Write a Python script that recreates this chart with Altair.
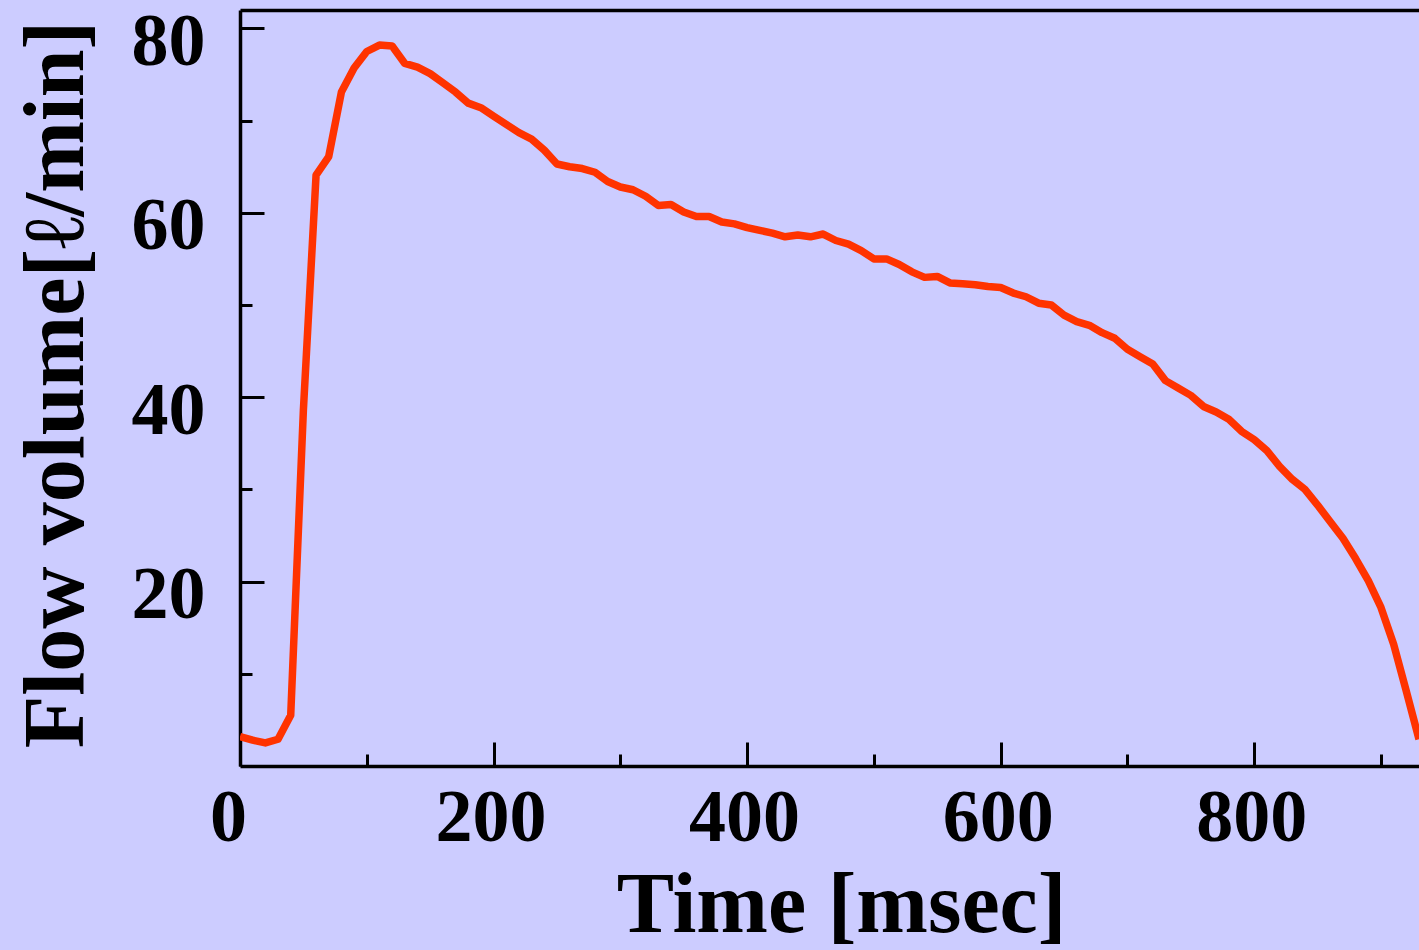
import altair as alt
import pandas as pd

time_ms = list(range(0, 940, 10))
flow = [3.2, 2.8, 2.5, 2.9, 5.5, 38.6, 64.1, 66.1, 73.1, 75.7,
        77.5, 78.2, 78.1, 76.2, 75.8, 75.1, 74.1, 73.1, 71.9, 71.4,
        70.5, 69.6, 68.7, 68.0, 66.8, 65.3, 65.0, 64.8, 64.4, 63.4,
        62.8, 62.5, 61.8, 60.8, 60.9, 60.1, 59.6, 59.6, 59.0, 58.8,
        58.4, 58.1, 57.8, 57.4, 57.6, 57.4, 57.7, 57.0, 56.6, 55.9,
        55.0, 55.0, 54.4, 53.6, 53.0, 53.1, 52.4, 52.3, 52.2, 52.0,
        51.9, 51.3, 50.9, 50.2, 50.0, 48.9, 48.2, 47.8, 47.0, 46.4,
        45.2, 44.4, 43.6, 41.8, 41.0, 40.2, 39.0, 38.4, 37.6, 36.3,
        35.4, 34.2, 32.5, 31.1, 30.0, 28.3, 26.5, 24.7, 22.5, 20.1,
        17.2, 13.2, 8.1, 2.9]

x_major = [0, 200, 400, 600, 800]
x_minor = [100, 300, 500, 700, 900]
y_major = [20, 40, 60, 80]
y_minor = [10, 30, 50, 70]

x_title = "Time [msec]"
y_title = "Flow volume[ℓ/min]"

df = pd.DataFrame({"t": time_ms, "flow": flow})

FONT = "Liberation Serif"
xscale = alt.Scale(domain=[0, 930], nice=False, zero=False)
yscale = alt.Scale(domain=[0, 82], nice=False)

base = alt.Chart(df)

main = base.mark_line(color="#FF3300", strokeWidth=7.5, strokeJoin="round", clip=True).encode(
    x=alt.X("t:Q", scale=xscale, axis=alt.Axis(
        orient="bottom", values=x_major, domain=True, domainColor="black", domainWidth=3.5,
        ticks=False, tickSize=0, grid=False, labelFlush=False,
        labelFont=FONT, labelFontSize=74, labelFontWeight="bold", labelColor="black",
        labelPadding=74, labelBaseline="alphabetic",
        labelOffset={"condition": {"test": "datum.value === 0", "value": -12}, "value": -3},
        title=x_title, titleFont=FONT, titleFontSize=86, titleFontWeight="bold", titleColor="black",
        titleX=601, titleY=165, titleBaseline="alphabetic", titleAlign="center")),
    y=alt.Y("flow:Q", scale=yscale, axis=alt.Axis(
        orient="left", values=y_major, domain=True, domainColor="black", domainWidth=3.5,
        ticks=False, tickSize=0, grid=False, labelFlush=False,
        labelFont=FONT, labelFontSize=74, labelFontWeight="bold", labelColor="black",
        labelPadding=35, labelBaseline="alphabetic", labelOffset=36,
        title=y_title, titleFont=FONT, titleFontSize=86, titleFontWeight="bold", titleColor="black",
        titleX=-158, titleY=374, titleAngle=270, titleBaseline="alphabetic", titleAlign="center")),
)

def tick_layer(xv, yv, size):
    return base.mark_line(opacity=0).encode(
        x=alt.X("t:Q", scale=xscale, axis=alt.Axis(
            orient="bottom", values=xv, domain=False, labels=False, grid=False,
            ticks=True, tickSize=size, tickWidth=3, tickColor="black", offset=-size, title=None)),
        y=alt.Y("flow:Q", scale=yscale, axis=alt.Axis(
            orient="left", values=yv, domain=False, labels=False, grid=False,
            ticks=True, tickSize=size, tickWidth=3, tickColor="black", offset=-size, title=None)),
    )

major = tick_layer(x_major, y_major, 24)
minor = tick_layer(x_minor, y_minor, 12)

top = base.mark_line(opacity=0).encode(
    x=alt.X("t:Q", scale=xscale, axis=alt.Axis(
        orient="top", domain=True, domainColor="black", domainWidth=3.5,
        labels=False, ticks=False, grid=False, title=None)),
    y=alt.Y("flow:Q", scale=yscale, axis=None),
)

chart = alt.layer(main, major, minor, top).resolve_axis(
    x="independent", y="independent"
).resolve_scale(x="shared", y="shared").properties(
    width=1179, height=756,
    autosize=alt.AutoSizeParams(type="none"),
    padding={"left": 240, "top": 10, "right": 0, "bottom": 184},
    background="#CCCCFF",
).configure_view(stroke=None)

chart.save("out.html", embed_options={"renderer": "svg", "actions": False})
